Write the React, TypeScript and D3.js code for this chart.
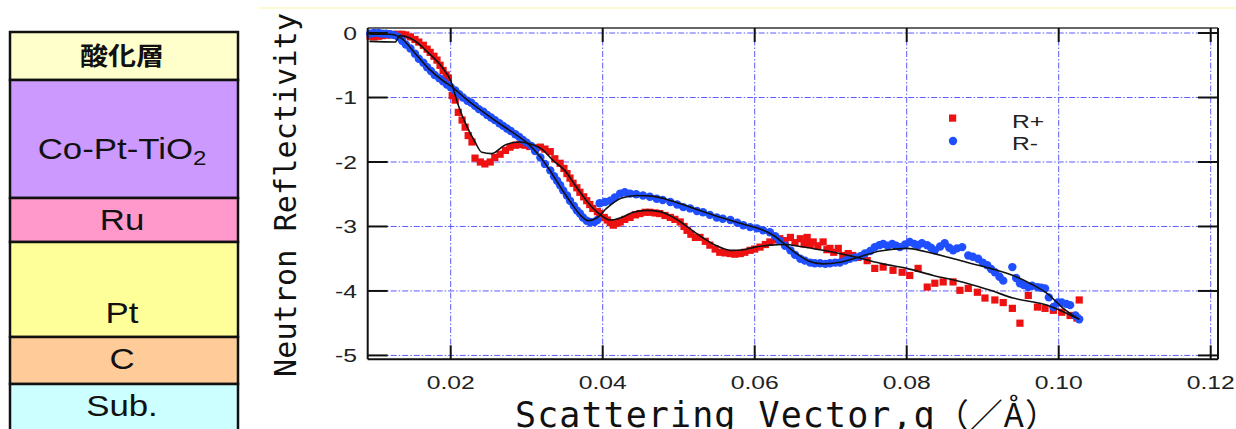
import React from 'react';
import * as d3 from 'd3';

// q (1/Å), log reflectivity
const rPlus: [number, number][] = [
  [0.0094,-0.05],[0.0099,-0.06],[0.0105,-0.05],[0.0110,-0.04],[0.0115,-0.03],[0.0120,-0.03],[0.0125,-0.02],[0.0131,-0.02],
  [0.0136,-0.02],[0.0141,-0.03],[0.0147,-0.06],[0.0153,-0.10],[0.0158,-0.14],[0.0164,-0.19],[0.0169,-0.25],[0.0173,-0.30],
  [0.0178,-0.36],[0.0182,-0.42],[0.0186,-0.50],[0.0190,-0.58],[0.0194,-0.65],[0.0197,-0.70],[0.0202,-0.97],[0.0206,-1.04],
  [0.0210,-1.23],[0.0215,-1.35],[0.0219,-1.46],[0.0223,-1.59],[0.0228,-1.69],[0.0232,-1.94],[0.0239,-2.00],[0.0245,-2.03],
  [0.0252,-2.00],[0.0258,-1.93],[0.0265,-1.88],[0.0272,-1.82],[0.0278,-1.77],[0.0285,-1.74],[0.0291,-1.73],[0.0298,-1.74],
  [0.0304,-1.76],[0.0311,-1.78],[0.0318,-1.77],[0.0324,-1.80],[0.0331,-1.84],[0.0337,-1.95],[0.0344,-2.02],[0.0349,-2.10],
  [0.0353,-2.18],[0.0357,-2.25],[0.0361,-2.33],[0.0366,-2.40],[0.0370,-2.47],[0.0375,-2.54],[0.0379,-2.60],[0.0383,-2.66],
  [0.0387,-2.72],[0.0393,-2.77],[0.0396,-2.80],[0.0402,-2.86],[0.0406,-2.90],[0.0410,-2.94],[0.0414,-2.98],[0.0419,-2.95],
  [0.0423,-2.93],[0.0429,-2.89],[0.0436,-2.86],[0.0443,-2.82],[0.0449,-2.80],[0.0456,-2.78],[0.0462,-2.78],[0.0469,-2.79],
  [0.0475,-2.80],[0.0482,-2.83],[0.0489,-2.86],[0.0495,-2.89],[0.0502,-2.93],[0.0507,-3.00],[0.0511,-3.06],[0.0516,-3.12],
  [0.0522,-3.17],[0.0528,-3.17],[0.0535,-3.23],[0.0541,-3.29],[0.0548,-3.35],[0.0554,-3.40],[0.0561,-3.41],[0.0568,-3.42],
  [0.0574,-3.43],[0.0581,-3.42],[0.0587,-3.40],[0.0594,-3.37],[0.0600,-3.35],[0.0607,-3.32],[0.0614,-3.28],[0.0620,-3.24],
  [0.0627,-3.21],[0.0633,-3.19],[0.0640,-3.22],[0.0647,-3.17],[0.0653,-3.25],[0.0660,-3.19],[0.0665,-3.27],[0.0669,-3.17],
  [0.0673,-3.28],[0.0677,-3.24],[0.0683,-3.30],[0.0690,-3.24],[0.0695,-3.36],[0.0699,-3.34],[0.0704,-3.40],[0.0710,-3.34],
  [0.0716,-3.45],[0.0723,-3.42],[0.0729,-3.45],[0.0736,-3.48],[0.0748,-3.53],[0.0758,-3.65],[0.0769,-3.63],[0.0782,-3.68],
  [0.0794,-3.71],[0.0804,-3.76],[0.0815,-3.65],[0.0827,-3.94],[0.0837,-3.88],[0.0848,-3.86],[0.0861,-3.86],[0.0870,-3.99],
  [0.0881,-3.96],[0.0893,-4.02],[0.0903,-4.11],[0.0916,-4.14],[0.0927,-4.18],[0.0939,-4.27],[0.0949,-4.50],[0.0960,-4.07],
  [0.0972,-4.25],[0.0982,-4.27],[0.0993,-4.30],[0.1004,-4.33],[0.1015,-4.38],[0.1024,-4.42],[0.1027,-4.14],
];

const rMinus: [number, number][] = [
  [0.0094,-0.01],[0.0099,0.00],[0.0105,0.00],[0.0110,-0.01],[0.0115,-0.01],[0.0120,-0.02],[0.0126,-0.03],[0.0131,-0.06],
  [0.0136,-0.12],[0.0141,-0.18],[0.0147,-0.24],[0.0153,-0.32],[0.0158,-0.40],[0.0164,-0.46],[0.0169,-0.53],[0.0174,-0.59],
  [0.0179,-0.65],[0.0185,-0.70],[0.0190,-0.75],[0.0195,-0.80],[0.0200,-0.84],[0.0206,-0.89],[0.0211,-0.95],[0.0216,-1.00],
  [0.0222,-1.05],[0.0227,-1.08],[0.0232,-1.13],[0.0237,-1.18],[0.0243,-1.22],[0.0248,-1.27],[0.0253,-1.31],[0.0258,-1.35],
  [0.0264,-1.40],[0.0269,-1.44],[0.0274,-1.48],[0.0279,-1.52],[0.0285,-1.57],[0.0290,-1.61],[0.0295,-1.66],[0.0300,-1.70],
  [0.0306,-1.75],[0.0311,-1.83],[0.0318,-1.93],[0.0324,-2.03],[0.0331,-2.13],[0.0336,-2.22],[0.0340,-2.29],[0.0344,-2.36],
  [0.0348,-2.44],[0.0353,-2.52],[0.0357,-2.60],[0.0362,-2.68],[0.0366,-2.75],[0.0370,-2.80],[0.0374,-2.86],[0.0379,-2.91],
  [0.0383,-2.93],[0.0389,-2.93],[0.0393,-2.90],[0.0396,-2.64],[0.0403,-2.62],[0.0410,-2.60],[0.0416,-2.55],[0.0423,-2.49],
  [0.0429,-2.47],[0.0436,-2.49],[0.0444,-2.50],[0.0453,-2.52],[0.0462,-2.54],[0.0471,-2.57],[0.0479,-2.59],[0.0489,-2.62],
  [0.0498,-2.66],[0.0506,-2.70],[0.0515,-2.72],[0.0524,-2.76],[0.0532,-2.78],[0.0541,-2.82],[0.0550,-2.86],[0.0558,-2.88],
  [0.0568,-2.90],[0.0577,-2.94],[0.0585,-2.98],[0.0594,-3.01],[0.0603,-3.03],[0.0611,-3.06],[0.0620,-3.09],[0.0627,-3.15],
  [0.0633,-3.22],[0.0640,-3.30],[0.0647,-3.37],[0.0653,-3.44],[0.0660,-3.50],[0.0666,-3.53],[0.0673,-3.56],[0.0679,-3.57],
  [0.0686,-3.57],[0.0693,-3.58],[0.0699,-3.57],[0.0706,-3.56],[0.0712,-3.56],[0.0719,-3.53],[0.0725,-3.50],[0.0732,-3.48],
  [0.0739,-3.46],[0.0745,-3.42],[0.0752,-3.38],[0.0758,-3.32],[0.0764,-3.29],[0.0769,-3.27],[0.0775,-3.30],[0.0781,-3.27],
  [0.0786,-3.30],[0.0791,-3.32],[0.0798,-3.28],[0.0804,-3.24],[0.0810,-3.27],[0.0815,-3.29],[0.0820,-3.26],[0.0827,-3.29],
  [0.0832,-3.33],[0.0837,-3.37],[0.0844,-3.31],[0.0850,-3.26],[0.0856,-3.33],[0.0861,-3.37],[0.0866,-3.34],[0.0873,-3.32],
  [0.0881,-3.45],[0.0887,-3.47],[0.0894,-3.50],[0.0900,-3.56],[0.0906,-3.60],[0.0911,-3.66],[0.0916,-3.71],[0.0922,-3.78],
  [0.0927,-3.84],[0.0939,-3.63],[0.0944,-3.80],[0.0949,-3.88],[0.0954,-3.91],[0.0960,-3.94],[0.0965,-3.92],[0.0972,-3.94],
  [0.0977,-3.95],[0.0982,-3.96],[0.0987,-4.10],[0.0993,-4.25],[0.0999,-4.18],[0.1004,-4.18],[0.1010,-4.20],[0.1015,-4.22],
  [0.1022,-4.38],[0.1027,-4.44],
];

// fitted curves
const fitPlus: [number, number][] = [
  [0.0093,-0.13],[0.0127,-0.14],[0.0133,-0.04],[0.0150,-0.10],[0.0170,-0.30],[0.0190,-0.55],[0.0200,-0.74],[0.0210,-1.12],
  [0.0219,-1.39],[0.0232,-1.69],[0.0241,-1.85],[0.0254,-1.87],[0.0271,-1.74],[0.0290,-1.69],[0.0305,-1.72],[0.0320,-1.80],
  [0.0335,-1.98],[0.0350,-2.13],[0.0365,-2.38],[0.0380,-2.62],[0.0395,-2.80],[0.0410,-2.90],[0.0425,-2.86],[0.0440,-2.78],
  [0.0458,-2.75],[0.0475,-2.77],[0.0490,-2.84],[0.0505,-2.95],[0.0520,-3.08],[0.0535,-3.20],[0.0550,-3.30],[0.0568,-3.37],
  [0.0585,-3.36],[0.0600,-3.32],[0.0620,-3.29],[0.0640,-3.28],[0.0660,-3.31],[0.0690,-3.37],[0.0735,-3.48],[0.0769,-3.58],
  [0.0800,-3.65],[0.0835,-3.76],[0.0879,-3.88],[0.0910,-3.99],[0.0940,-4.11],[0.0985,-4.22],[0.1027,-4.44],
];

const fitMinus: [number, number][] = [
  [0.0093,-0.02],[0.0120,-0.02],[0.0135,-0.08],[0.0150,-0.27],[0.0170,-0.54],[0.0190,-0.74],[0.0200,-0.82],[0.0220,-1.02],
  [0.0240,-1.20],[0.0260,-1.37],[0.0280,-1.53],[0.0300,-1.70],[0.0315,-1.88],[0.0330,-2.12],[0.0345,-2.40],[0.0360,-2.66],
  [0.0372,-2.84],[0.0381,-2.91],[0.0392,-2.87],[0.0405,-2.72],[0.0425,-2.56],[0.0445,-2.52],[0.0465,-2.53],[0.0490,-2.60],
  [0.0510,-2.68],[0.0530,-2.76],[0.0550,-2.84],[0.0570,-2.91],[0.0590,-2.98],[0.0610,-3.05],[0.0625,-3.14],[0.0640,-3.28],
  [0.0655,-3.42],[0.0670,-3.53],[0.0690,-3.58],[0.0710,-3.56],[0.0735,-3.48],[0.0765,-3.38],[0.0800,-3.34],[0.0835,-3.42],
  [0.0880,-3.56],[0.0910,-3.65],[0.0940,-3.76],[0.0965,-3.90],[0.0985,-4.04],[0.1006,-4.27],[0.1027,-4.44],
];

const xTicks = [0.02, 0.04, 0.06, 0.08, 0.10, 0.12];
const xTickLabels = ['0.02', '0.04', '0.06', '0.08', '0.10', '0.12'];
const yTicks = [0, -1, -2, -3, -4, -5];
const yTickLabels = ['0', '-1', '-2', '-3', '-4', '-5'];

const seriesNames = ['R+', 'R-'];

const layerNames = ['酸化層', 'Co-Pt-TiO', 'Ru', 'Pt', 'C', 'Sub.'];
const layerSubs = ['', '2', '', '', '', ''];

export default function App() {
  const W = 1236, H = 429;
  const frame = {left: 367.7, right: 1218, top: 28, bottom: 359.3};
  const red = '#ee1111';
  const blue = '#1f4fff';
  const gridColor = '#5c5cff';

  // layer stack layout
  const stack = {left: 10, right: 238};
  const layerEdges = [32, 80, 198, 242, 337, 384, 440];
  const layerFills = ['#ffffcc', '#cc99ff', '#ff99cc', '#ffff99', '#ffcc99', '#ccffff'];
  const layerLabelY = [64.5, 159, 229.5, 322.5, 368.5, 415.5];

  const x = d3.scaleLinear().domain([0.00908, 0.12096]).range([frame.left, frame.right]);
  const y = d3.scaleLinear().domain([0.078, -5.06]).range([frame.top, frame.bottom]);

  const line = d3.line<[number, number]>()
    .x(d => x(d[0]))
    .y(d => y(d[1]))
    .curve(d3.curveMonotoneX);

  const stretch = 1.3;
  const tickFont = {fontFamily: '"Liberation Sans", Arial, sans-serif', fontSize: 19, fill: '#222'};
  const cx = (stack.left + stack.right) / 2 - 2;
  const sq = 7.2;   // red square size
  const rb = 4.2;   // blue dot radius

  return (
    <svg width={W} height={H} viewBox={`0 0 ${W} ${H}`}
         style={{position: 'fixed', left: 0, top: 0, background: '#fff'}}>
      <rect x={0} y={0} width={W} height={H} fill="#fff"/>
      <line x1={258} x2={W} y1={8} y2={8} stroke="#fdfbd2" strokeWidth={2}/>

      {/* layer stack */}
      <g>
        {layerNames.map((name, i) => (
          <rect key={'L' + i}
                x={stack.left} y={layerEdges[i]}
                width={stack.right - stack.left}
                height={layerEdges[i + 1] - layerEdges[i]}
                fill={layerFills[i]} stroke="#111" strokeWidth={2.5}/>
        ))}
        {layerNames.map((name, i) => (
          <g key={'T' + i} transform={`translate(${cx},${layerLabelY[i]}) scale(${i === 0 ? 1.12 : 1.2},1)`}>
            <text textAnchor="middle"
                  fontFamily={i === 0 ? '"Noto Sans CJK JP", sans-serif' : '"Liberation Sans", Arial, sans-serif'}
                  fontWeight={i === 0 ? 700 : 400}
                  fontSize={i === 0 ? 25 : 29} fill="#111">
              {name}
              {layerSubs[i] && <tspan fontSize={20} dy={6}>{layerSubs[i]}</tspan>}
            </text>
          </g>
        ))}
      </g>

      {/* grid */}
      <g stroke={gridColor} strokeWidth={1} strokeDasharray="6 2 1.5 2">
        {xTicks.map(t => (
          <line key={'gx' + t} x1={x(t)} x2={x(t)} y1={frame.top} y2={frame.bottom}/>
        ))}
        {yTicks.map(t => (
          <line key={'gy' + t} x1={frame.left} x2={frame.right} y1={y(t)} y2={y(t)}/>
        ))}
      </g>

      {/* data */}
      <g fill={red}>
        {rPlus.map((d, i) => (
          <rect key={'r' + i} x={x(d[0]) - sq / 2} y={y(d[1]) - sq / 2} width={sq} height={sq}/>
        ))}
      </g>
      <g fill={blue}>
        {rMinus.map((d, i) => (
          <circle key={'b' + i} cx={x(d[0])} cy={y(d[1])} r={rb}/>
        ))}
      </g>
      <path d={line(fitPlus) || ''} fill="none" stroke="#111" strokeWidth={1.6}/>
      <path d={line(fitMinus) || ''} fill="none" stroke="#111" strokeWidth={1.6}/>

      {/* frame */}
      <g stroke="#111">
        <line x1={frame.left} x2={frame.right} y1={frame.top} y2={frame.top} strokeWidth={1.5} stroke="#333"/>
        <line x1={frame.left} x2={frame.right} y1={frame.bottom} y2={frame.bottom} strokeWidth={2}/>
        <line x1={frame.left} x2={frame.left} y1={frame.top} y2={frame.bottom} strokeWidth={2}/>
        <line x1={frame.right} x2={frame.right} y1={frame.top} y2={frame.bottom} strokeWidth={2}/>
        {xTicks.map(t => (
          <g key={'tx' + t}>
            <line x1={x(t)} x2={x(t)} y1={frame.bottom} y2={frame.bottom - 14} strokeWidth={2}/>
            <line x1={x(t)} x2={x(t)} y1={frame.top} y2={frame.top + 14} strokeWidth={2}/>
          </g>
        ))}
        {yTicks.map(t => (
          <g key={'ty' + t}>
            <line x1={frame.left} x2={frame.left + 20} y1={y(t)} y2={y(t)} strokeWidth={2}/>
            <line x1={frame.right} x2={frame.right - 20} y1={y(t)} y2={y(t)} strokeWidth={2}/>
          </g>
        ))}
      </g>

      {/* tick labels */}
      {xTicks.map((t, i) => (
        <g key={'lx' + t} transform={`translate(${x(t)},389) scale(${stretch},1)`}>
          <text textAnchor="middle" {...tickFont}>{xTickLabels[i]}</text>
        </g>
      ))}
      {yTicks.map((t, i) => (
        <g key={'ly' + t} transform={`translate(357,${y(t) + 6.8}) scale(${stretch},1)`}>
          <text textAnchor="end" {...tickFont}>{yTickLabels[i]}</text>
        </g>
      ))}

      {/* legend */}
      <rect x={949} y={114.5} width={sq} height={sq} fill={red}/>
      <circle cx={953} cy={141} r={rb} fill={blue}/>
      <g transform={`translate(1012,128) scale(${stretch},1)`}>
        <text {...tickFont}>{seriesNames[0]}</text>
      </g>
      <g transform={`translate(1012,150) scale(${stretch},1)`}>
        <text {...tickFont}>{seriesNames[1]}</text>
      </g>

      {/* axis titles */}
      <text transform="translate(296,195) rotate(-90)" textAnchor="middle"
            fontFamily='"DejaVu Sans Mono", monospace' fontSize={30} fill="#111"
            textLength={364} lengthAdjust="spacing">
        Neutron Reflectivity
      </text>
      <text x={515} y={427} fontFamily='"DejaVu Sans Mono", monospace' fontSize={35} fill="#111"
            textLength={543} lengthAdjust="spacing">
        Scattering Vector,q<tspan fontFamily='"Noto Sans CJK JP", sans-serif' fontSize={33}>（／Å）</tspan>
      </text>
    </svg>
  );
}
